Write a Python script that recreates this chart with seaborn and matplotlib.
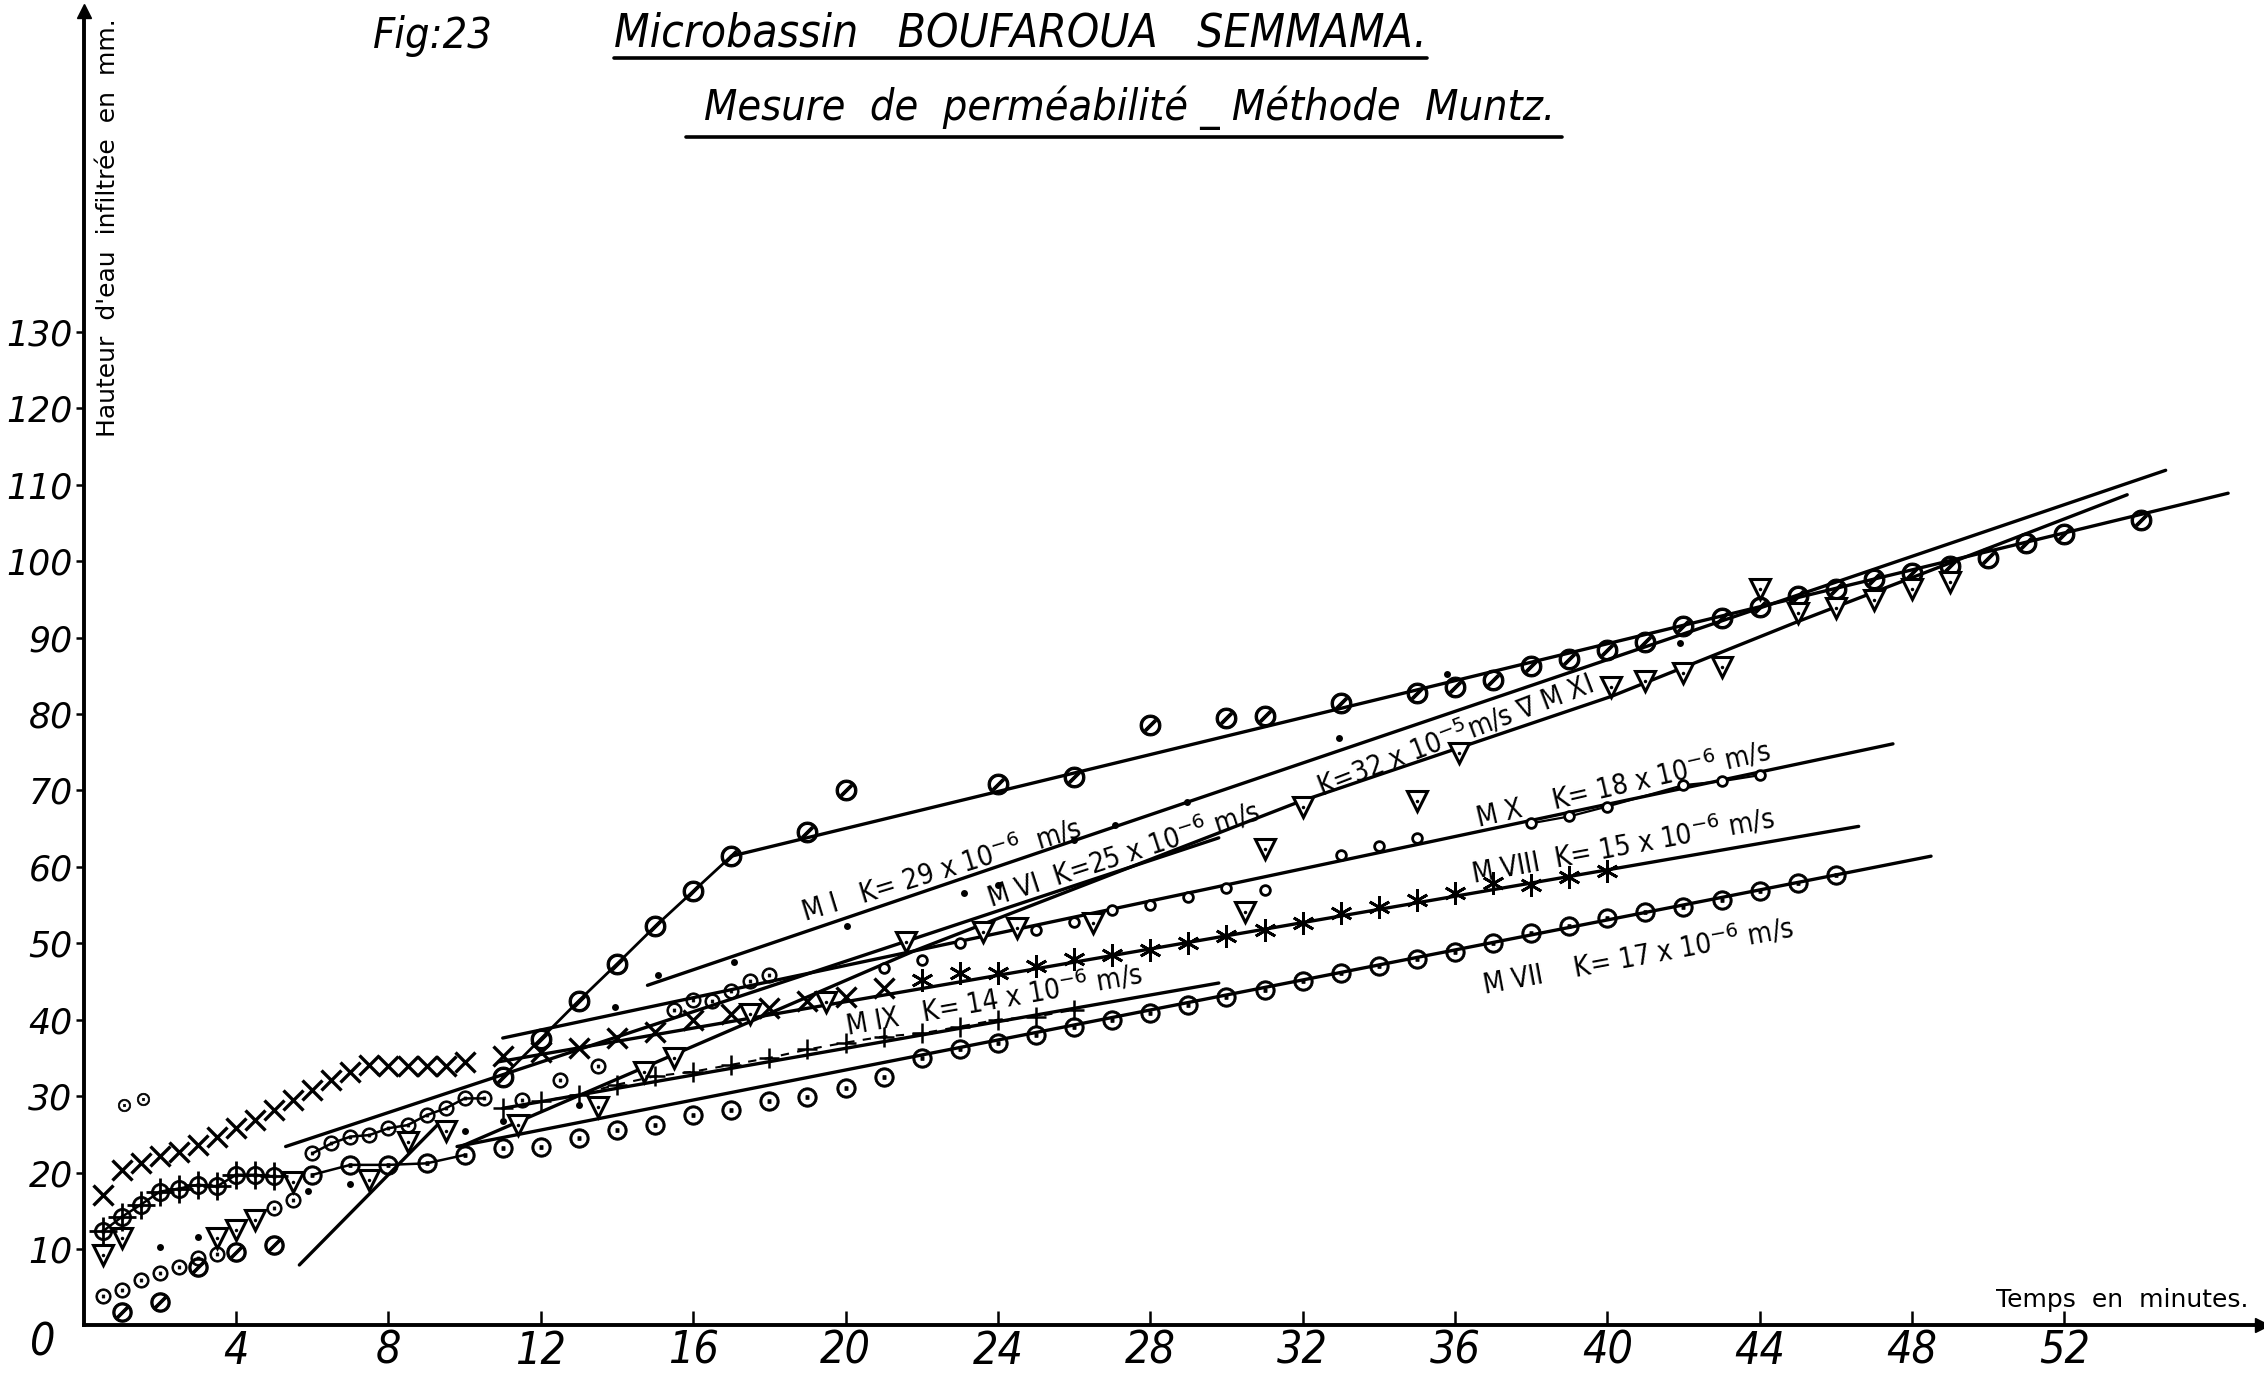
import matplotlib
matplotlib.use("Agg")
import matplotlib.pyplot as plt
import seaborn as sns
from matplotlib.lines import Line2D

# ------------------------------------------------------------------ data
# M I : circles with a slash (steep connected part, then upper points)
mi_chain_x = [11, 12, 13, 14, 15, 16, 17]
mi_chain_y = [32.5, 37.5, 42.5, 47.3, 52.2, 56.8, 61.4]
mi_up_x = [19, 20, 24, 26, 28, 30, 31, 33, 35, 36, 37, 38, 39, 40, 41, 42,
           43, 44, 45, 46, 47, 48, 49, 50, 51, 52, 54]
mi_up_y = [64.6, 70.0, 70.8, 71.8, 78.6, 79.5, 79.7, 81.4, 82.7, 83.5, 84.5,
           86.3, 87.2, 88.4, 89.4, 91.5, 92.6, 94.0, 95.4, 96.3, 97.7, 98.4,
           99.4, 100.4, 102.4, 103.6, 105.4]
# small black dots
dot_x = [2, 3, 4, 5.9, 7.0, 10.0, 11.0, 13.0, 13.96, 15.07, 17.07, 20.05,
         23.1, 24.0, 26.0, 27.07, 28.97, 32.95, 35.8, 41.9]
dot_y = [10.2, 11.5, 13.5, 17.6, 18.5, 25.4, 26.7, 28.8, 41.7, 45.9, 47.6,
         52.2, 56.6, 57.6, 63.5, 65.5, 68.5, 76.8, 85.3, 89.3]
# small open circles
so_x = [1.05, 1.55]
so_y = [28.8, 29.6]
low_x = [0.5, 1.0, 1.5, 2.0, 2.5, 3.0, 3.5, 5.0, 5.5]
low_y = [3.8, 4.6, 5.9, 6.8, 7.7, 8.8, 9.4, 15.3, 16.4]
lowsl_x = [1.0, 2.0, 3.0, 4.0, 5.0]
lowsl_y = [1.8, 3.1, 7.7, 9.6, 10.5]
# M XI : triangles
mxi_x = [0.5, 1.0, 3.5, 4.0, 4.5, 5.5, 7.5, 8.5, 9.5, 11.4, 13.5, 14.7, 15.5,
         17.5, 19.5, 21.6, 23.6, 24.5, 26.5, 30.5, 31.0, 32.0, 35.0, 36.1,
         40.1, 41.0, 42.0, 43.0, 44.0, 45.0, 46.0, 47.0, 48.0, 49.0]
mxi_y = [9.2, 11.4, 11.4, 12.5, 13.8, 18.8, 19.0, 24.0, 25.4, 26.2, 28.6,
         33.2, 35.0, 40.8, 42.3, 50.2, 51.5, 52.0, 52.6, 54.1, 62.4, 67.9,
         68.6, 74.9, 83.6, 84.3, 85.4, 86.2, 96.3, 93.2, 93.9, 94.9, 96.3, 97.3]
# M VI : circles with dot (upper left group)
mvi_x = [6.0, 6.5, 7.0, 7.5, 8.0, 8.5, 9.0, 9.5, 10.0, 10.5, 11.5, 12.5, 13.5,
         15.5, 16.0, 16.5, 17.0, 17.5, 18.0]
mvi_y = [22.5, 23.8, 24.7, 24.9, 25.8, 26.2, 27.5, 28.4, 29.7, 29.7, 29.5,
         32.1, 33.9, 41.3, 42.6, 42.4, 43.7, 45.0, 45.9]
# M X : small circles
mx_x = [21, 22, 23, 25, 26, 27, 28, 29, 30, 31, 33, 34, 35, 38, 39, 40, 42, 43, 44]
mx_y = [46.7, 47.8, 50.0, 51.8, 52.8, 54.4, 55.0, 56.1, 57.2, 57.0, 61.6,
        62.7, 63.8, 65.7, 66.6, 67.9, 70.7, 71.2, 72.0]
# M VII : circles with dot
mvii_x = list(range(6, 47))
mvii_y = [19.7, 21.0, 21.0, 21.2, 22.3, 23.2, 23.4, 24.5, 25.6, 26.2, 27.5,
          28.2, 29.3, 29.9, 31.0, 32.5, 35.0, 36.2, 37.0, 38.0, 39.1, 40.0,
          40.9, 41.9, 43.0, 43.9, 45.0, 46.1, 47.0, 48.0, 48.9, 50.0, 51.3,
          52.2, 53.3, 54.1, 54.8, 55.7, 56.8, 57.9, 59.0]
# M IX : crossed circles then crosses
mix_a_x = [0.5, 1.0, 1.5, 2.0, 2.5, 3.0, 3.5, 4.0, 4.5, 5.0]
mix_a_y = [12.3, 14.2, 15.8, 17.5, 17.9, 18.4, 18.2, 19.7, 19.7, 19.5]
mix_b_x = [11, 12, 13, 14, 15, 16, 17, 18, 19, 20, 21, 22, 23, 24, 25, 26]
mix_b_y = [28.4, 29.3, 30.2, 31.5, 32.6, 33.2, 34.1, 35.0, 36.1, 37.0, 37.8,
           38.2, 39.1, 40.0, 40.4, 41.3]
# M VIII : crosses
mviii_a_x = [0.5, 1.0, 1.5, 2.0, 2.5, 3.0, 3.5, 4.0, 4.5, 5.0, 5.5, 6.0, 6.5,
             7.0, 7.5, 8.0, 8.5, 9.0, 9.5, 10.0, 11, 12, 13, 14, 15, 16, 17,
             18, 19, 20, 21]
mviii_a_y = [17.1, 20.3, 21.2, 22.1, 22.7, 23.6, 24.7, 25.8, 26.9, 28.2, 29.5,
             30.8, 32.1, 33.2, 34.1, 33.9, 33.9, 33.9, 33.9, 34.5, 35.2, 35.8,
             36.3, 37.6, 38.4, 40.0, 40.8, 41.5, 42.4, 43.0, 44.2]
mviii_b_x = [22, 23, 24, 25, 26, 27, 28, 29, 30, 31, 32, 33, 34, 35, 36, 37,
             38, 39, 40]
mviii_b_y = [45.2, 46.1, 46.1, 47.0, 48.0, 48.5, 49.1, 50.0, 50.9, 51.8, 52.7,
             54.0, 54.7, 55.7, 56.6, 57.9, 57.6, 58.7, 59.4]

# fitted lines (start / end values)
fit_upper_x = [17, 56.3]
fit_upper_y = [61.4, 108.9]
fit_mi_x = [14.8, 54.66]
fit_mi_y = [44.5, 111.9]
fit_mxi_x = [9.9, 21.8, 31.9, 40.1, 45.0, 53.65]
fit_mxi_y = [23.4, 49.0, 68.5, 82.3, 92.1, 108.7]
fit_steep_x = [5.66, 9.3]
fit_steep_y = [7.9, 26.3]
fit_mvi_x = [5.3, 29.8]
fit_mvi_y = [23.4, 63.8]
fit_mx_x = [11.0, 47.5]
fit_mx_y = [37.6, 76.1]
fit_mviii_x = [10.9, 46.6]
fit_mviii_y = [34.5, 65.3]
fit_mvii_x = [9.8, 48.5]
fit_mvii_y = [23.4, 61.4]
fit_mix_x = [11.0, 29.8]
fit_mix_y = [28.4, 44.8]

x_ticks = list(range(4, 53, 4))
y_ticks = list(range(10, 131, 10))

labels = [
    ("M I   K= 29 x 10$^{-6}$  m/s", 22.5, 59.6, 17),
    ("M VI  K=25 x 10$^{-6}$ m/s", 27.3, 61.6, 18),
    ("K=32 x 10$^{-5}$m/s \u2207 M XI", 36.0, 77.3, 21),
    ("M X    K= 18 x 10$^{-6}$ m/s", 40.4, 70.8, 13),
    ("M VIII  K= 15 x 10$^{-6}$ m/s", 40.4, 62.8, 10.5),
    ("M VII    K= 17 x 10$^{-6}$ m/s", 40.8, 48.3, 10.5),
    ("M IX   K= 14 x 10$^{-6}$ m/s", 23.9, 42.6, 10),
]

# ------------------------------------------------------------------ style
sns.set_theme(style="white")
plt.rcParams["font.family"] = ["DejaVu Sans"]
plt.rcParams["mathtext.fontset"] = "dejavusans"
plt.rcParams["text.color"] = "black"
plt.rcParams["xtick.color"] = "black"
plt.rcParams["ytick.color"] = "black"
plt.rcParams["axes.edgecolor"] = "black"

W, H = 2264, 1382
fig = plt.figure(figsize=(W / 100, H / 100), dpi=100)
ax = fig.add_axes([0.037, 0.041, 0.9623, 0.951])
ax.set_xlim(0, 57.2)
ax.set_ylim(0, 172)


def draw(x, y, marker="", ms=10, mfc="white", mew=1.8, ls="", lw=2.0, z=3):
    sns.lineplot(x=x, y=y, ax=ax, estimator=None, sort=False, color="black",
                 marker=marker if marker else None, markersize=ms,
                 markerfacecolor=mfc, markeredgecolor="black",
                 markeredgewidth=mew, linestyle=ls, linewidth=lw, zorder=z)


# fitted lines
for fx, fy in [(fit_upper_x, fit_upper_y), (fit_mi_x, fit_mi_y),
               (fit_mxi_x, fit_mxi_y), (fit_steep_x, fit_steep_y),
               (fit_mvi_x, fit_mvi_y), (fit_mx_x, fit_mx_y),
               (fit_mviii_x, fit_mviii_y), (fit_mvii_x, fit_mvii_y),
               (fit_mix_x, fit_mix_y)]:
    draw(fx, fy, ls="-", lw=2.4, z=2)

# connected chains
draw(mi_chain_x, mi_chain_y, ls="-", lw=2.0, z=2)
draw(mvi_x[:10], mvi_y[:10], ls="-", lw=1.8, z=2)
draw(mvii_x[:5], mvii_y[:5], ls="-", lw=1.8, z=2)
draw(mix_a_x, mix_a_y, ls="-", lw=1.8, z=2)
draw(mix_b_x, mix_b_y, ls=(0, (4, 4)), lw=1.5, z=2)
draw(mx_x[-6:], mx_y[-6:], ls="-", lw=1.6, z=2)

# markers
draw(mi_chain_x, mi_chain_y, marker=r"$\oslash$", ms=15, mfc="black", mew=0.8)
draw(mi_up_x, mi_up_y, marker=r"$\oslash$", ms=15, mfc="black", mew=0.8)
draw(lowsl_x, lowsl_y, marker=r"$\oslash$", ms=14, mfc="black", mew=0.8)
draw(dot_x, dot_y, marker="o", ms=5, mfc="black", mew=0)
draw(so_x, so_y, marker=r"$\odot$", ms=9, mfc="black", mew=0.5)
draw(low_x, low_y, marker=r"$\odot$", ms=11, mfc="black", mew=0.6)
draw(mxi_x, mxi_y, marker="v", ms=14, mfc="white", mew=2.2)
draw(mxi_x, mxi_y, marker="o", ms=2.5, mfc="black", mew=0, z=4)
draw(mvi_x, mvi_y, marker=r"$\odot$", ms=11, mfc="black", mew=0.6)
draw(mx_x, mx_y, marker="o", ms=7, mfc="white", mew=2.0)
draw(mvii_x, mvii_y, marker=r"$\odot$", ms=14, mfc="black", mew=0.6)
draw(mix_a_x, mix_a_y, marker=r"$\odot$", ms=13, mfc="black", mew=0.6)
draw(mix_a_x, mix_a_y, marker="+", ms=20, mew=2.0, z=4)
draw(mix_b_x, mix_b_y, marker="+", ms=14, mew=1.8)
draw(mviii_a_x, mviii_a_y, marker="x", ms=15, mew=2.4)
draw(mviii_b_x, mviii_b_y, marker=(6, 2, 0), ms=16, mew=2.0)

# line labels
for txt, lx, ly, rot in labels:
    ax.text(lx, ly, txt, rotation=rot, rotation_mode="anchor", ha="center",
            va="center", fontsize=20, color="black", zorder=6,
            fontstretch="condensed")

# axes styling
for s in ["top", "right"]:
    ax.spines[s].set_visible(False)
for s in ["left", "bottom"]:
    ax.spines[s].set_color("black")
    ax.spines[s].set_linewidth(2.8)
ax.grid(False)
ax.set_xticks(x_ticks)
ax.set_xticklabels([str(t) for t in x_ticks], fontsize=32, style="italic",
                   fontstretch="condensed")
ax.set_yticks(y_ticks)
ax.set_yticklabels([str(t) for t in y_ticks], fontsize=25, style="italic")
ax.tick_params(axis="x", direction="in", length=10, width=1.8, pad=3,
               colors="black", bottom=True)
ax.tick_params(axis="y", direction="out", length=6, width=1.8, pad=2,
               colors="black", left=True)
ax.set_xlabel("")
ax.set_ylabel("")
ax.plot(1, 0, ">", color="black", ms=10, transform=ax.get_yaxis_transform(),
        clip_on=False)
ax.plot(0, 1, "^", color="black", ms=10, transform=ax.get_xaxis_transform(),
        clip_on=False)

# texts in the figure
fig.text(43 / W, 1 - 1343 / H, "0", fontsize=32, style="italic",
         ha="center", va="center", fontstretch="condensed")
fig.text(433 / W, 1 - 36 / H, "Fig:23", fontsize=31, style="italic",
         ha="center", va="center", fontstretch="condensed")
fig.text(1020 / W, 1 - 34 / H, "Microbassin   BOUFAROUA   SEMMAMA.",
         fontsize=33, style="italic", ha="center", va="center",
         fontstretch="condensed")
fig.add_artist(Line2D([614 / W, 1427 / W], [1 - 58 / H, 1 - 58 / H],
                      color="black", lw=2.6))
fig.text(1130 / W, 1 - 108 / H, "Mesure  de  perméabilité _ Méthode  Muntz.",
         fontsize=31, style="italic", ha="center", va="center",
         fontstretch="condensed")
fig.add_artist(Line2D([686 / W, 1562 / W], [1 - 137 / H, 1 - 137 / H],
                      color="black", lw=2.6))
fig.text(2122 / W, 1 - 1300 / H, "Temps  en  minutes.", fontsize=18,
         ha="center", va="center")
fig.text(108 / W, 1 - 228 / H, "Hauteur  d'eau  infiltrée  en  mm.",
         fontsize=18, rotation=90, ha="center", va="center")

fig.savefig("out.png", dpi=100, facecolor="white")
